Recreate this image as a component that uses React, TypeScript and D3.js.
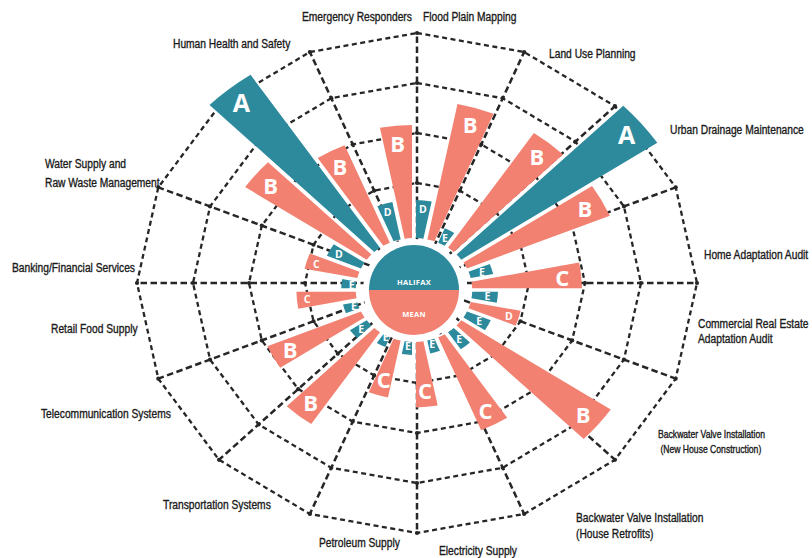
import React from "react";
import * as d3 from "d3";

// ---------- DATA ----------
const CATEGORIES = [
  "Flood Plain Mapping",
  "Land Use Planning",
  "Urban Drainage Maintenance",
  "Home Adaptation Audit",
  "Commercial Real Estate Adaptation Audit",
  "Backwater Valve Installation (New House Construction)",
  "Backwater Valve Installation (House Retrofits)",
  "Electricity Supply",
  "Petroleum Supply",
  "Transportation Systems",
  "Telecommunication Systems",
  "Retail Food Supply",
  "Banking/Financial Services",
  "Water Supply and Raw Waste Management",
  "Human Health and Safety",
  "Emergency Responders",
];
const LABEL_LINES = [
  ["Flood Plain Mapping"],
  ["Land Use Planning"],
  ["Urban Drainage Maintenance"],
  ["Home Adaptation Audit"],
  ["Commercial Real Estate", "Adaptation Audit"],
  ["Backwater Valve Installation", " (New House Construction)"],
  ["Backwater Valve Installation", "(House Retrofits)"],
  ["Electricity Supply"],
  ["Petroleum Supply"],
  ["Transportation Systems"],
  ["Telecommunication Systems"],
  ["Retail Food Supply"],
  ["Banking/Financial Services"],
  ["Water Supply and", "Raw Waste Management"],
  ["Human Health and Safety"],
  ["Emergency Responders"],
];
const HALIFAX_VALUES = [36, 27, 105, 29, 30, 30, 29, 26, 26, 25, 28, 26, 26, 34, 104, 36];
const HALIFAX_GRADES = ["D", "E", "A", "E", "E", "E", "E", "E", "E", "E", "E", "E", "E", "D", "A", "D"];
const MEAN_VALUES = [76, 76, 76, 60, 39, 85, 61, 47, 44, 65, 57, 42, 40, 73, 63, 66];
const MEAN_GRADES = ["B", "B", "B", "C", "D", "B", "C", "C", "C", "B", "B", "C", "C", "B", "B", "B"];
const RING_TICKS = [40, 60, 80, 100];
const SERIES_NAMES = ["HALIFAX", "MEAN"];

// ---------- LAYOUT ----------
const W = 812;
const H = 558;
const GRID_CX = 417;
const GRID_CY = 283;
const BAR_CX = 414;
const BAR_CY = 290;
const STRETCH_X = 1.12;
const R = 250;
const INNER = 52;
const CENTER_R = 45;
const LABEL_SCALE_X = 0.82;
// label anchors: [x, baseline y, font size, line height]
const LABEL_LAYOUT: [number, number, number, number][] = [
  [423, 21, 12.5, 15],
  [549, 58, 12.5, 15],
  [670, 134, 12.5, 15],
  [704, 259, 12.5, 15],
  [698, 328, 12.5, 15],
  [658, 438, 10.5, 15],
  [576, 522, 12.5, 16],
  [439, 555, 12.5, 15],
  [319, 547, 12.5, 15],
  [163, 509, 12.5, 15],
  [41, 418, 12.5, 15],
  [51, 333, 12.5, 15],
  [12, 272, 12.5, 15],
  [45, 168, 12.5, 19],
  [173, 48, 12.5, 15],
  [302, 21, 12.5, 15],
];

const TEAL = "#2d8a9d";
const SALMON = "#f28171";
const GRID = "#262626";
const LABEL_FONT = "'Liberation Sans', Arial, sans-serif";
const LETTER_FONT = "'Open Sans', 'Liberation Sans', sans-serif";

export default function App() {
  const n = CATEGORIES.length;
  const step = (2 * Math.PI) / n;
  const rScale = d3.scaleLinear().domain([0, 100]).range([0, R]);

  const gridPt = (k: number, v: number) => {
    const a = k * step;
    return [GRID_CX + Math.sin(a) * rScale(v) * STRETCH_X, GRID_CY - Math.cos(a) * rScale(v)];
  };
  const barPt = (a: number, r: number) => [
    BAR_CX + Math.sin(a) * r * STRETCH_X,
    BAR_CY - Math.cos(a) * r,
  ];

  type Bar = { a0: number; a1: number; value: number; grade: string; color: string };
  const bars: Bar[] = [];
  CATEGORIES.forEach((_, i) => {
    const s = i * step;
    bars.push({ a0: s, a1: s + step / 2, value: HALIFAX_VALUES[i], grade: HALIFAX_GRADES[i], color: TEAL });
    bars.push({ a0: s + step / 2, a1: s + step, value: MEAN_VALUES[i], grade: MEAN_GRADES[i], color: SALMON });
  });

  const arc = d3
    .arc<Bar>()
    .innerRadius(INNER)
    .outerRadius((d) => rScale(d.value))
    .startAngle((d) => d.a0)
    .endAngle((d) => d.a1)
    .padAngle(0.036)
    .padRadius(100);

  const halfArc = d3.arc<any>().innerRadius(0).outerRadius(CENTER_R);

  const line = d3.line();

  return (
    <svg
      width={W}
      height={H}
      viewBox={`0 0 ${W} ${H}`}
      style={{ position: "absolute", left: 0, top: 0, background: "#fff" }}
    >
      {/* grid rings */}
      {RING_TICKS.map((t) => {
        const pts = d3.range(n + 1).map((k) => gridPt(k % n, t)) as [number, number][];
        return (
          <path
            key={"ring" + t}
            d={line(pts) || ""}
            fill="none"
            stroke={GRID}
            strokeWidth={2.3}
            strokeDasharray="5 3.5"
          />
        );
      })}
      {/* spokes */}
      {d3.range(n).map((k) => {
        const [x, y] = gridPt(k, 100);
        return (
          <line
            key={"sp" + k}
            x1={GRID_CX}
            y1={GRID_CY}
            x2={x}
            y2={y}
            stroke={GRID}
            strokeWidth={2.5}
            strokeDasharray="6.5 3.5"
          />
        );
      })}
      {/* intersection markers */}
      {RING_TICKS.map((t) =>
        d3.range(n).map((k) => {
          const [x, y] = gridPt(k, t);
          return <circle key={`m${t}-${k}`} cx={x} cy={y} r={2.1} fill={GRID} />;
        })
      )}

      {/* bars */}
      <g transform={`translate(${BAR_CX},${BAR_CY}) scale(${STRETCH_X},1)`}>
        {bars.map((b, i) => (
          <path key={"b" + i} d={arc(b) || ""} fill={b.color} />
        ))}
      </g>

      {/* grade letters */}
      {bars.map((b, i) => {
        const big = b.value >= 43;
        const outer = rScale(b.value);
        const rr = outer - (big ? 17 : 9);
        const [x, y] = barPt((b.a0 + b.a1) / 2, rr);
        const fs = big ? (b.grade === "A" ? 25 : 22) : 10.5;
        return (
          <text
            key={"l" + i}
            x={x}
            y={y}
            textAnchor="middle"
            dominantBaseline="central"
            fill="#fff"
            fontFamily={LETTER_FONT}
            fontWeight={700}
            fontSize={fs}
          >
            {b.grade}
          </text>
        );
      })}

      {/* center circle */}
      <circle cx={BAR_CX} cy={BAR_CY} r={INNER - 1} fill="#fff" />
      <g transform={`translate(${BAR_CX},${BAR_CY})`}>
        <path d={halfArc({ startAngle: -Math.PI / 2, endAngle: Math.PI / 2 }) || ""} fill={TEAL} />
        <path d={halfArc({ startAngle: Math.PI / 2, endAngle: (3 * Math.PI) / 2 }) || ""} fill={SALMON} />
      </g>
      <text
        x={BAR_CX}
        y={BAR_CY - 8}
        textAnchor="middle"
        dominantBaseline="central"
        fill="#fff"
        fontFamily={LETTER_FONT}
        fontWeight={700}
        fontSize={7.5}
        letterSpacing={0.3}
      >
        {SERIES_NAMES[0]}
      </text>
      <text
        x={BAR_CX}
        y={BAR_CY + 24}
        textAnchor="middle"
        dominantBaseline="central"
        fill="#fff"
        fontFamily={LETTER_FONT}
        fontWeight={700}
        fontSize={7.5}
        letterSpacing={0.3}
      >
        {SERIES_NAMES[1]}
      </text>

      {/* category labels */}
      {LABEL_LINES.map((lines, i) => {
        const [x, y, fs, lh] = LABEL_LAYOUT[i];
        return (
          <text
            key={"c" + i}
            transform={`translate(${x},${y}) scale(${LABEL_SCALE_X},1)`}
            fill="#1a1a1a"
            stroke="#1a1a1a"
            strokeWidth={0.35}
            fontFamily={LABEL_FONT}
            fontSize={fs}
            style={{ whiteSpace: "pre" }}
          >
            {lines.map((ln, j) => (
              <tspan key={j} x={0} y={j * lh}>
                {ln}
              </tspan>
            ))}
          </text>
        );
      })}
    </svg>
  );
}
